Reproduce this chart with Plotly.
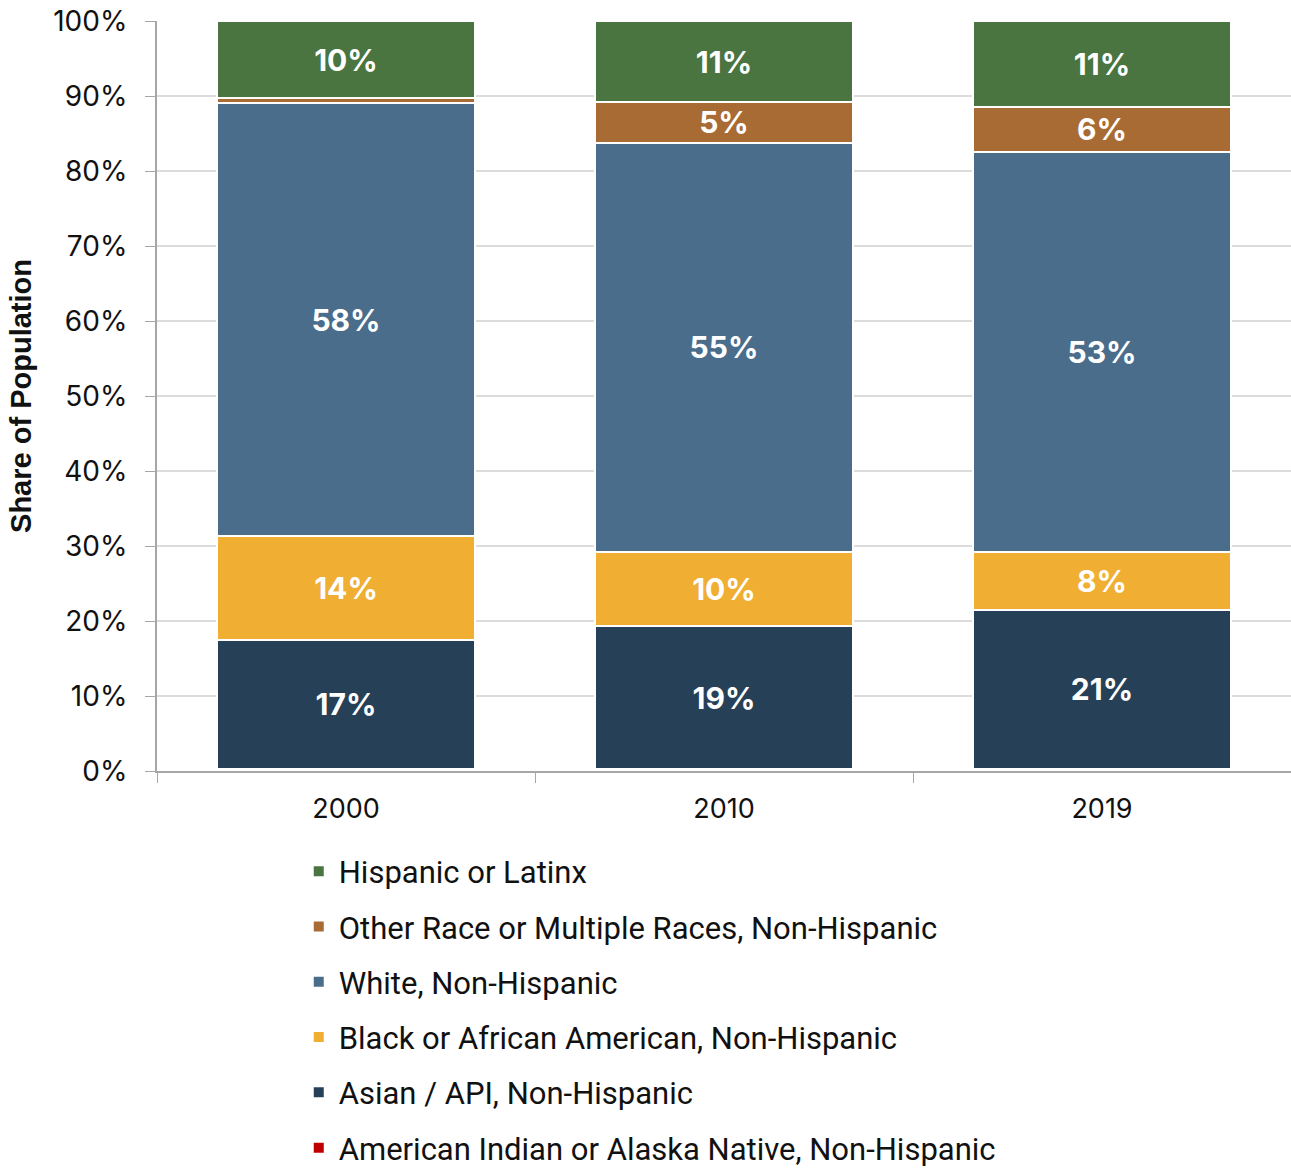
import plotly.graph_objects as go

years = ["2000", "2010", "2019"]
series_names = [
    "American Indian or Alaska Native, Non-Hispanic",
    "Asian / API, Non-Hispanic",
    "Black or African American, Non-Hispanic",
    "White, Non-Hispanic",
    "Other Race or Multiple Races, Non-Hispanic",
    "Hispanic or Latinx",
]
aian = [0.3, 0.3, 0.3]
asian = [17.2, 19.0, 21.2]
black = [13.8, 9.9, 7.7]
white = [57.8, 54.6, 53.3]
other = [0.6, 5.4, 6.1]
hispanic = [10.3, 10.8, 11.4]
colors = ["#c00000", "#264058", "#f0ae32", "#4a6d8b", "#a86b34", "#4a7440"]
y_ticks = [0, 10, 20, 30, 40, 50, 60, 70, 80, 90, 100]

values = [aian, asian, black, white, other, hispanic]

fig = go.Figure()
n = len(series_names)
for i, (name, vals, col) in enumerate(zip(series_names, values, colors)):
    labels = [f"{round(v)}%" if v >= 3 else "" for v in vals]
    fig.add_trace(go.Bar(
        x=years, y=vals, name=name,
        marker=dict(color=col, line=dict(color="white", width=2)),
        text=labels, textposition="inside", insidetextanchor="middle",
        textangle=0, constraintext="none",
        textfont=dict(family="Inter", size=30, color="white", weight="bold"),
        hoverinfo="skip", legendgroup=f"g{i}", legendrank=(n - i) * 10,
        cliponaxis=False,
    ))

fig.update_layout(
    width=1291, height=1169,
    margin=dict(l=157, r=0, t=21, b=398, autoexpand=False),
    barmode="stack", bargap=0.32,
    plot_bgcolor="white", paper_bgcolor="white",
    font=dict(family="Inter", color="#111111"),
    legend=dict(
        traceorder="grouped", orientation="v",
        x=0.125, xanchor="left", y=-0.098, yanchor="top",
        font=dict(family="Roboto", size=31, color="#111111"),
        tracegroupgap=12, itemwidth=30,
    ),
    showlegend=True,
)
fig.update_xaxes(
    showline=True, linecolor="#a6a6a6", linewidth=2,
    ticks="outside", tickson="boundaries", ticklen=10, tickcolor="#a6a6a6",
    tickfont=dict(family="Inter", size=27, color="#111111"),
    ticklabelstandoff=13,
    showgrid=False, automargin=False,
)
fig.update_yaxes(
    range=[0, 100.001], tickvals=y_ticks, ticktext=[f"{t}%" for t in y_ticks],
    showline=True, linecolor="#a6a6a6", linewidth=2,
    ticks="outside", ticklen=10, tickcolor="#a6a6a6",
    tickfont=dict(family="Inter", size=28, color="#111111"),
    ticklabelstandoff=12,
    showgrid=True, gridcolor="#dcdcdc", gridwidth=1.5,
    zeroline=False, automargin=False,
    title=dict(text="<b>Share of Population</b>",
               font=dict(family="Liberation Sans", size=29, color="#111111"), standoff=13),
)

fig.write_html(
    "out.html",
    config={"displayModeBar": False},
    post_script="document.body.style.margin='0';document.body.style.overflow='hidden';",
)
